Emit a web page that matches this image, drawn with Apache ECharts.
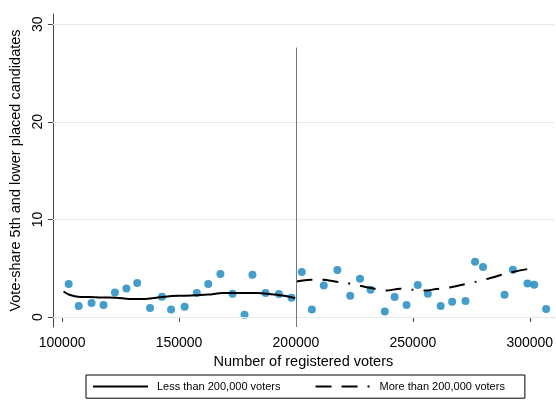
<!DOCTYPE html>
<html>
<head>
<meta charset="utf-8">
<script src="https://cdn.jsdelivr.net/npm/echarts@6/dist/echarts.min.js"></script>
<style>
  html, body { margin: 0; padding: 0; background: #fff; }
  #chart { width: 556px; height: 406px; }
</style>
</head>
<body>
<div id="chart"></div>
<script>
// Constituencies: registered voters vs. vote share of 5th and lower placed candidates
const voters = [
  102800, 107100, 112600, 117700, 122600, 127500, 132100, 137600, 142700, 146600,
  152400, 157600, 162500, 167700, 172900, 178000, 181400, 187000, 192700, 198100,
  202500, 206800, 211900, 217700, 223200, 227400, 231900, 238000, 242200, 247300,
  252100, 256400, 261900, 266800, 272500, 276600, 280000, 289200, 292800, 299000,
  301900, 307000
];
const voteShare = [
  3.38, 1.13, 1.43, 1.23, 2.52, 2.93, 3.48, 0.92, 2.08, 0.78,
  1.05, 2.46, 3.38, 4.40, 2.38, 0.24, 4.33, 2.46, 2.35, 1.98,
  4.61, 0.78, 3.23, 4.81, 2.18, 3.92, 2.79, 0.57, 2.05, 1.23,
  3.28, 2.38, 1.13, 1.57, 1.64, 5.66, 5.12, 2.28, 4.84, 3.44,
  3.31, 0.82
];

// Smoothed fit below the 200,000 threshold
const fitLowX = [
  100600, 103100, 106700, 111600, 117200, 122900, 128600, 134200, 138400, 144100,
  149700, 155400, 162500, 168800, 176600, 183600, 189300, 194900, 199600
];
const fitLowY = [
  2.62, 2.28, 2.08, 2.05, 2.00, 1.98, 1.86, 1.84, 1.92, 2.08,
  2.17, 2.20, 2.30, 2.45, 2.46, 2.46, 2.33, 2.18, 1.94
];

// Smoothed fit above the 200,000 threshold
const fitHighX = [
  200300, 206200, 211200, 217500, 221800, 227400, 232000, 238700, 244500, 250000,
  255700, 259900, 265600, 271200, 276900, 282500, 288100, 293800, 298900
];
const fitHighY = [
  3.64, 3.82, 3.82, 3.62, 3.48, 3.20, 2.97, 2.72, 2.90, 2.79,
  2.72, 2.87, 3.03, 3.31, 3.61, 3.95, 4.33, 4.67, 4.91
];

const xTicks = [100000, 150000, 200000, 250000, 300000];
const yTicks = [0, 10, 20, 30];
const threshold = 200000;
const thresholdTop = 27.6;

const seriesNames = ['Less than 200,000 voters', 'More than 200,000 voters'];

const X_MIN = 96060, X_MAX = 310290;
const Y_MIN = -1.02, Y_MAX = 31.04;

const zip = (a, b) => a.map((v, i) => [v, b[i]]);
const FONT = "'Liberation Sans', Arial, sans-serif";

const chart = echarts.init(document.getElementById('chart'), null, { renderer: 'canvas' });

chart.setOption({
  backgroundColor: '#ffffff',
  animation: false,
  grid: { left: 50, right: 0, top: 14, bottom: 79, containLabel: false },
  legend: {
    left: 86, top: 375,
    width: 435,
    padding: [6, 20, 6, 6],
    borderColor: '#000', borderWidth: 1,
    itemWidth: 55, itemHeight: 14, itemGap: 34,
    data: seriesNames,
    itemStyle: { opacity: 0 },
    textStyle: { fontFamily: FONT, fontSize: 11, color: '#000', padding: [0, 0, 0, 4] }
  },
  xAxis: {
    type: 'value', min: X_MIN, max: X_MAX,
    name: 'Number of registered voters', nameLocation: 'middle', nameGap: 22,
    nameTextStyle: { fontFamily: FONT, fontSize: 14.5, color: '#000' },
    axisLine: { show: true, lineStyle: { color: '#444', width: 1 } },
    axisTick: { show: true, length: 5, customValues: xTicks, lineStyle: { color: '#444' } },
    axisLabel: {
      customValues: xTicks, margin: 9, fontFamily: FONT, fontSize: 14, color: '#000',
      formatter: v => String(Math.round(v))
    },
    splitLine: { show: false }
  },
  yAxis: {
    type: 'value', min: Y_MIN, max: Y_MAX,
    name: 'Vote-share 5th and lower placed candidates', nameLocation: 'middle', nameGap: 21,
    nameRotate: 90,
    nameTextStyle: { fontFamily: FONT, fontSize: 14.5, color: '#000' },
    axisLine: { show: true, lineStyle: { color: '#444', width: 1 } },
    axisTick: { show: true, length: 5, customValues: yTicks, lineStyle: { color: '#444' } },
    axisLabel: { customValues: yTicks, rotate: 90, margin: 8, fontFamily: FONT, fontSize: 14, color: '#000' },
    splitLine: { show: false }
  },
  series: [
    {
      name: 'grid', type: 'line', data: [], silent: true,
      markLine: {
        silent: true, symbol: 'none', label: { show: false },
        lineStyle: { color: '#e2ebea', width: 1, type: 'solid' },
        data: yTicks.map(v => ({ yAxis: v }))
      },
      z: 1
    },
    {
      name: 'threshold', type: 'line', data: [], silent: true,
      markLine: {
        silent: true, symbol: 'none', label: { show: false },
        lineStyle: { color: '#777', width: 1, type: 'solid' },
        data: [[{ coord: [threshold, Y_MIN] }, { coord: [threshold, thresholdTop] }]]
      },
      z: 2
    },
    {
      name: 'points', type: 'scatter', data: zip(voters, voteShare),
      symbol: 'circle', symbolSize: 8,
      itemStyle: { color: '#1685bd' },
      z: 3
    },
    {
      name: seriesNames[0], type: 'line', data: zip(fitLowX, fitLowY),
      smooth: 0.3, showSymbol: false, symbol: 'none',
      lineStyle: { color: '#000', width: 2, type: 'solid' },
      itemStyle: { color: '#000' },
      z: 4
    },
    {
      name: seriesNames[1], type: 'line', data: zip(fitHighX, fitHighY),
      smooth: 0.3, showSymbol: false, symbol: 'none',
      lineStyle: { color: '#000', width: 2, type: [16, 10, 16, 10, 2, 10] },
      itemStyle: { color: '#000' },
      z: 4
    }
  ]
});
</script>
</body>
</html>
